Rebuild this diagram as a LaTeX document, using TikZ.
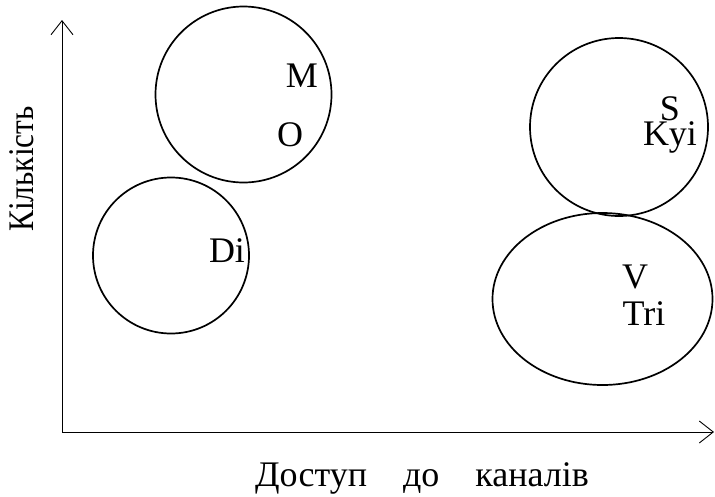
\documentclass[tikz,border=0pt]{standalone}
\usepackage{fontspec}
\setmainfont{Liberation Serif}
\newfontfamily\narrowserif[FakeStretch=0.87]{Liberation Serif}
\usetikzlibrary{shapes.geometric,arrows.meta}
\begin{document}
\begin{tikzpicture}[x=1pt,y=-1pt,
  blob/.style={draw,line width=1.7pt,inner sep=0pt,outer sep=0pt},
  lbl/.style={anchor=base,inner sep=0pt,font=\fontsize{36}{40}\selectfont},
  axis/.style={line width=0.9pt,-{Straight Barb[length=14pt,width=22pt,line width=0.9pt]}}]
\useasboundingbox (0,0) rectangle (715,496);
% axes
\coordinate (o) at (62,432);
\coordinate (ytop) at (62,20);
\coordinate (xend) at (714,432);
\draw[axis] (o) -- (ytop);
\draw[axis] (o) -- (xend);
% circles
\node[blob,circle,minimum size=176pt] (cMO) at (243.5,94.5) {};
\node[blob,circle,minimum size=156pt] (cDi) at (171,255.5) {};
\node[blob,circle,minimum size=178pt] (cSK) at (619,127) {};
\node[blob,ellipse,minimum width=220pt,minimum height=172pt] (cVT) at (602.5,299) {};
% labels
\node[lbl] (M) at (302,87) {M};
\node[lbl] (O) at (290,146) {O};
\node[lbl] (Di) at (227,262) {Di};
\node[lbl] (S) at (670,120) {S};
\node[lbl] (Kyi) at (670,145) {Kyi};
\node[lbl] (V) at (635,288) {V};
\node[lbl] (Tri) at (644,325) {Tri};
% axis titles
\node[lbl,anchor=base] (xt) at (422,486) {Доступ\hspace{1em}до\hspace{1em}каналів};
\node[lbl,anchor=base,rotate=90] (yt) at (33,169) {\narrowserif Кількість};
\end{tikzpicture}
\end{document}
